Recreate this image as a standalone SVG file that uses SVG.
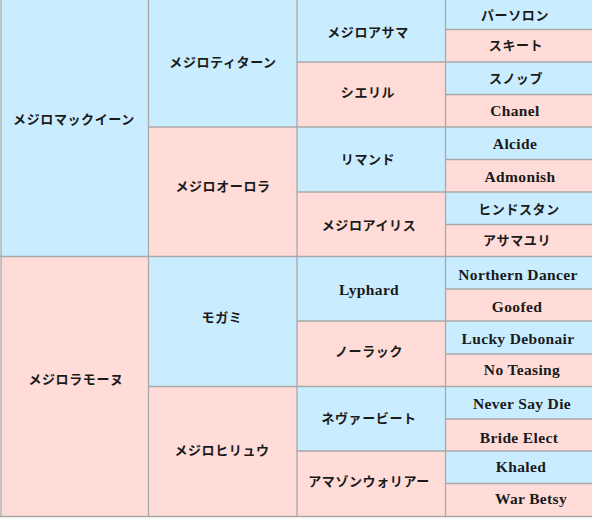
<svg xmlns="http://www.w3.org/2000/svg" width="592" height="518" viewBox="0 0 592 518">
<style>
.b{fill:#c9edff}
.p{fill:#ffdcd7}
text{font-family:"Liberation Serif","Noto Sans CJK JP",serif;font-weight:bold;fill:#1a1a1a;text-anchor:middle;dominant-baseline:central}
.j{font-size:13px;letter-spacing:0.6px;font-weight:600}
.l{font-size:15.5px;letter-spacing:0.35px}
.grid line{stroke:#a8a8a8;stroke-width:1.3}
</style>
<rect x="0" y="0" width="592" height="518" fill="#ffffff"/>
<g id="n-mcqueen"><rect class="b" x="1" y="0" width="148" height="256.5"/><text class="j" x="74" y="119">メジロマックイーン</text></g>
<g id="n-ramonu"><rect class="p" x="1" y="256.5" width="148" height="259.5"/><text class="j" x="76" y="379">メジロラモーヌ</text></g>
<g id="n-titan"><rect class="b" x="149" y="0" width="148" height="127"/><text class="j" x="223" y="62.5">メジロティターン</text></g>
<g id="n-aurora"><rect class="p" x="149" y="127" width="148" height="129.5"/><text class="j" x="223" y="186">メジロオーロラ</text></g>
<g id="n-mogami"><rect class="b" x="149" y="256.5" width="148" height="130"/><text class="j" x="222" y="317">モガミ</text></g>
<g id="n-hiryu"><rect class="p" x="149" y="386.5" width="148" height="129.5"/><text class="j" x="222" y="450">メジロヒリュウ</text></g>
<g id="n-asama"><rect class="b" x="297" y="0" width="148" height="62"/><text class="j" x="368" y="32">メジロアサマ</text></g>
<g id="n-cheryl"><rect class="p" x="297" y="62" width="148" height="65"/><text class="j" x="368" y="92">シエリル</text></g>
<g id="n-rimand"><rect class="b" x="297" y="127" width="148" height="65"/><text class="j" x="368" y="159">リマンド</text></g>
<g id="n-iris"><rect class="p" x="297" y="192" width="148" height="64.5"/><text class="j" x="369" y="225">メジロアイリス</text></g>
<g id="n-lyphard"><rect class="b" x="297" y="256.5" width="148" height="64.5"/><text class="l" x="369" y="289">Lyphard</text></g>
<g id="n-norack"><rect class="p" x="297" y="321" width="148" height="65.5"/><text class="j" x="369" y="351">ノーラック</text></g>
<g id="n-neverbeat"><rect class="b" x="297" y="386.5" width="148" height="64.5"/><text class="j" x="369" y="418">ネヴァービート</text></g>
<g id="n-amazon"><rect class="p" x="297" y="451" width="148" height="65"/><text class="j" x="369" y="481">アマゾンウォリアー</text></g>
<g id="n-partholon"><rect class="b" x="445" y="0" width="147" height="29.5"/><text class="j" x="515" y="15">パーソロン</text></g>
<g id="n-skeet"><rect class="p" x="445" y="29.5" width="147" height="32.5"/><text class="j" x="516" y="45">スキート</text></g>
<g id="n-snob"><rect class="b" x="445" y="62" width="147" height="32.5"/><text class="j" x="516" y="78">スノッブ</text></g>
<g id="n-chanel"><rect class="p" x="445" y="94.5" width="147" height="32.5"/><text class="l" x="515" y="110.5">Chanel</text></g>
<g id="n-alcide"><rect class="b" x="445" y="127" width="147" height="32.5"/><text class="l" x="515" y="143">Alcide</text></g>
<g id="n-admonish"><rect class="p" x="445" y="159.5" width="147" height="32.5"/><text class="l" x="520" y="176">Admonish</text></g>
<g id="n-hindostan"><rect class="b" x="445" y="192" width="147" height="32.5"/><text class="j" x="519" y="209">ヒンドスタン</text></g>
<g id="n-asamayuri"><rect class="p" x="445" y="224.5" width="147" height="32"/><text class="j" x="517" y="240">アサマユリ</text></g>
<g id="n-nd"><rect class="b" x="445" y="256.5" width="147" height="32.5"/><text class="l" x="518" y="274">Northern Dancer</text></g>
<g id="n-goofed"><rect class="p" x="445" y="289" width="147" height="32.5"/><text class="l" x="517" y="306">Goofed</text></g>
<g id="n-lucky"><rect class="b" x="445" y="321.5" width="147" height="32.5"/><text class="l" x="518" y="338">Lucky Debonair</text></g>
<g id="n-teasing"><rect class="p" x="445" y="354" width="147" height="32.5"/><text class="l" x="522" y="369">No Teasing</text></g>
<g id="n-nsd"><rect class="b" x="445" y="386.5" width="147" height="32.5"/><text class="l" x="522" y="403">Never Say Die</text></g>
<g id="n-bride"><rect class="p" x="445" y="419" width="147" height="32"/><text class="l" x="519" y="437">Bride Elect</text></g>
<g id="n-khaled"><rect class="b" x="445" y="451" width="147" height="32.5"/><text class="l" x="521" y="466">Khaled</text></g>
<g id="n-warbetsy"><rect class="p" x="445" y="483.5" width="147" height="32.5"/><text class="l" x="531" y="498">War Betsy</text></g>
<g class="grid" id="connectors">
<line x1="1" y1="0" x2="1" y2="517"/>
<line x1="148.5" y1="0" x2="148.5" y2="517"/>
<line x1="297" y1="0" x2="297" y2="517"/>
<line x1="445.5" y1="0" x2="445.5" y2="517"/>
<line x1="0" y1="516.5" x2="592" y2="516.5"/>
<line x1="0" y1="256.5" x2="592" y2="256.5"/>
<line x1="148.5" y1="127" x2="592" y2="127"/>
<line x1="148.5" y1="386.5" x2="592" y2="386.5"/>
<line x1="297" y1="62" x2="592" y2="62"/>
<line x1="297" y1="192" x2="592" y2="192"/>
<line x1="297" y1="321" x2="592" y2="321"/>
<line x1="297" y1="451" x2="592" y2="451"/>
<line x1="445.5" y1="29.5" x2="592" y2="29.5"/>
<line x1="445.5" y1="94.5" x2="592" y2="94.5"/>
<line x1="445.5" y1="159.5" x2="592" y2="159.5"/>
<line x1="445.5" y1="224.5" x2="592" y2="224.5"/>
<line x1="445.5" y1="289" x2="592" y2="289"/>
<line x1="445.5" y1="354" x2="592" y2="354"/>
<line x1="445.5" y1="419" x2="592" y2="419"/>
<line x1="445.5" y1="483.5" x2="592" y2="483.5"/>
</g>
</svg>
